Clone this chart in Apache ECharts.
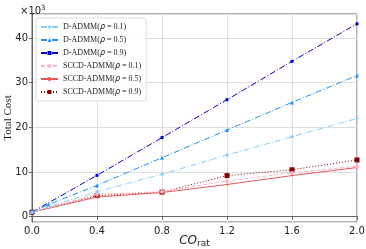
<!DOCTYPE html>
<html><head><meta charset="utf-8">
<script src="https://cdn.jsdelivr.net/npm/echarts@6/dist/echarts.min.js"></script>
<style>html,body{margin:0;padding:0;background:#fff}#c{width:366px;height:249px}</style>
</head><body><div id="c"></div>
<script>
var xValues = [0, 0.4, 0.8, 1.2, 1.6, 2.0];
var xValuesD05 = [0, 0.1, 0.4, 0.8, 1.2, 1.6, 2.0];
var seriesNames = ['D-ADMM(ρ = 0.1)', 'D-ADMM(ρ = 0.5)', 'D-ADMM(ρ = 0.9)',
                   'SCCD-ADMM(ρ = 0.1)', 'SCCD-ADMM(ρ = 0.5)', 'SCCD-ADMM(ρ = 0.9)'];
var dAdmm01 = [1.0, 5.6, 9.5, 13.8, 17.9, 22.0];
var dAdmm05 = [1.0, 2.7, 7.0, 13.2, 19.4, 25.6, 31.6];
var dAdmm09 = [1.0, 9.25, 17.7, 26.2, 34.8, 43.2];
var sccd01 = [1.0, 5.0, 5.6, 8.0, 9.8, 11.3];
var sccd05 = [1.0, 4.4, 5.4, 7.2, 9.2, 11.0];
var sccd09 = [1.0, 4.7, 5.5, 9.2, 10.5, 12.7];
var xTickLabels = ['0.0', '0.4', '0.8', '1.2', '1.6', '2.0'];
var yTickLabels = ['0', '10', '20', '30', '40'];

function pairs(xs, ys) { return xs.map(function (x, i) { return [x, ys[i]]; }); }

var colors = ['#87CEFA', '#1E90FF', '#0000CD', '#FFB6C1', '#E05A5A', '#8B0000'];
var lineTypes = [[6,2,1,2],[6,2,1,2],[6,2,1,2],[4,2],'solid',[1,2]];
var symbols = ['diamond', 'triangle', 'rect', 'circle', 'circle', 'rect'];
var symSizes = [4, 4, 3, 4, 2, 5];
var datas = [pairs(xValues, dAdmm01), pairs(xValuesD05, dAdmm05), pairs(xValues, dAdmm09),
             pairs(xValues, sccd01), pairs(xValues, sccd05), pairs(xValues, sccd09)];

var series = seriesNames.map(function (n, i) {
  return {
    name: n, type: 'line', data: datas[i],
    symbol: symbols[i], symbolSize: symSizes[i], showSymbol: true,
    itemStyle: { color: colors[i] },
    lineStyle: { color: colors[i], width: 1, type: lineTypes[i] },
    z: 10 - i
  };
});

var chart = echarts.init(document.getElementById('c'), null, { renderer: 'canvas' });
chart.setOption({
  animation: false,
  backgroundColor: '#fff',
  title: {
    text: '×10{s|3}', left: 15, top: 0,
    textStyle: { fontFamily: 'DejaVu Sans', fontSize: 10, fontWeight: 'normal', color: '#222',
      rich: { s: { fontFamily: 'DejaVu Sans', fontSize: 7, verticalAlign: 'top', padding: [0,0,5,0] } } }
  },
  grid: { left: 32, right: 9, top: 14, bottom: 27, containLabel: false, outerBoundsMode: 'none',
          show: true, borderColor: '#666', borderWidth: 1 },
  legend: {
    orient: 'vertical', left: 36, top: 18, itemWidth: 17, itemHeight: 5, itemGap: 3,
    padding: [4, 5, 4, 4], borderColor: '#ddd', borderWidth: 1, borderRadius: 2,
    backgroundColor: 'rgba(255,255,255,0.9)',
    data: seriesNames,
    formatter: function (n) { return n.replace('ρ', '{i|ρ}'); },
    textStyle: { fontFamily: 'Liberation Serif', fontSize: 8, lineHeight: 10, color: '#222',
      rich: { i: { fontFamily: 'DejaVu Sans', fontStyle: 'italic', fontSize: 8, lineHeight: 10, color: '#222' } } }
  },
  xAxis: {
    type: 'value', min: 0, max: 2, interval: 0.4,
    name: '{i|CO}{s|rat}', nameLocation: 'middle', nameGap: 11, nameMoveOverlap: false,
    nameTextStyle: { rich: {
      i: { fontFamily: 'DejaVu Sans', fontStyle: 'italic', fontSize: 12, color: '#222' },
      s: { fontFamily: 'DejaVu Sans', fontSize: 9, color: '#222', padding: [6, 0, 0, 0] } } },
    axisLine: { show: true, lineStyle: { color: '#666', width: 1 } },
    axisTick: { show: true, length: 3, lineStyle: { color: '#666' } },
    axisLabel: { fontFamily: 'DejaVu Sans', fontSize: 10, color: '#222', margin: 4,
      formatter: function (v) { var i = Math.round(v / 0.4); return Math.abs(v - i * 0.4) < 1e-6 ? xTickLabels[i] : ''; } },
    splitLine: { show: true, lineStyle: { color: '#ddd', width: 1 } }
  },
  yAxis: {
    type: 'value', min: -1.2, max: 45.4, splitNumber: 5,
    name: 'Total Cost', nameLocation: 'middle', nameGap: 18, nameMoveOverlap: false,
    nameTextStyle: { fontFamily: 'Liberation Serif', fontSize: 11, color: '#222' },
    axisLine: { show: true, lineStyle: { color: '#666', width: 1 } },
    axisTick: { show: true, length: 3, lineStyle: { color: '#666' } },
    axisLabel: { fontFamily: 'DejaVu Sans', fontSize: 10, color: '#222', margin: 4,
      showMinLabel: false, showMaxLabel: false,
      formatter: function (v) { var i = Math.round(v / 10); return (Math.abs(v - i * 10) < 1e-6 && i >= 0 && i < yTickLabels.length) ? yTickLabels[i] : ''; } },
    splitLine: { show: true, lineStyle: { color: '#ddd', width: 1 } }
  },
  series: series
});
</script></body></html>
